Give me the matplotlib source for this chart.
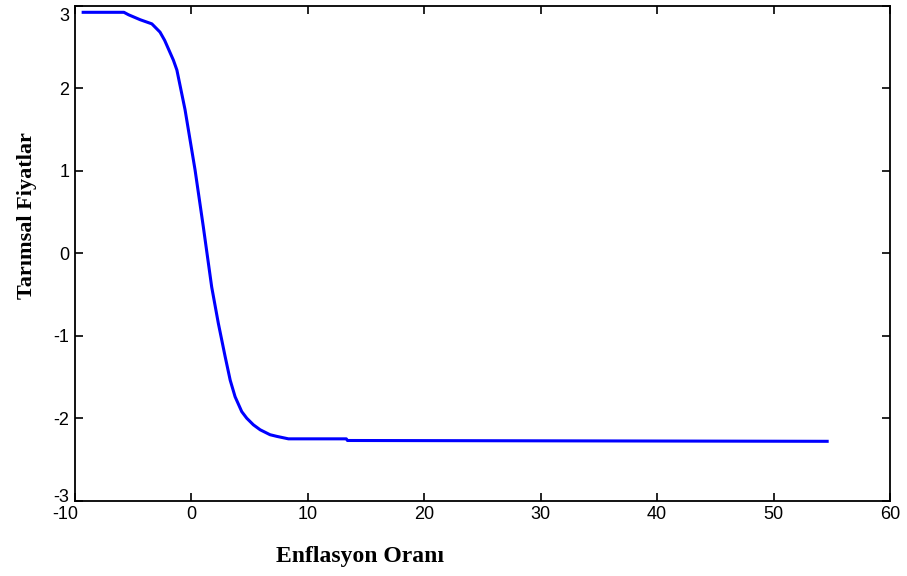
import numpy as np
import matplotlib.pyplot as plt
from matplotlib.transforms import ScaledTranslation

plt.rcParams["axes.unicode_minus"] = False

# values
enflasyon = [-9.3, -5.8, -5.4, -4.4, -3.4, -2.7, -2.3, -1.55, -1.25, -0.55, 0.31,
             1.02, 1.74, 2.31, 2.89, 3.33, 3.75, 4.32, 4.75, 5.32, 5.9, 6.75,
             7.33, 8.33, 13.3, 13.4, 54.6]
fiyat = [2.92, 2.92, 2.89, 2.83, 2.78, 2.68, 2.58, 2.34, 2.22, 1.74, 1.01,
         0.32, -0.41, -0.85, -1.25, -1.54, -1.74, -1.92, -2.0, -2.08, -2.14, -2.2,
         -2.22, -2.25, -2.25, -2.27, -2.28]

xticks = [-10, 0, 10, 20, 30, 40, 50, 60]
yticks = [-3, -2, -1, 0, 1, 2, 3]

fig = plt.figure(figsize=(9.07, 5.76), dpi=100)
ax = fig.add_axes([0.0827, 0.1307, 0.8986, 0.8594])

ax.plot(enflasyon, fiyat, color="#0000ff", linewidth=2.2)

ax.set_xlim(-10, 60)
ax.set_ylim(-3, 3)
ax.set_xticks(xticks)
ax.set_yticks(yticks)
ax.tick_params(direction="in", top=True, right=True, length=6, width=1.2,
               labelsize=13, pad=4)
for lab in ax.get_xticklabels() + ax.get_yticklabels():
    lab.set_family("Liberation Sans")
for s in ax.spines.values():
    s.set_linewidth(1.3)

# nudge the corner labels like the original (MATLAB style)
def nudge(tick, dx, dy):
    off = ScaledTranslation(dx / 72, dy / 72, fig.dpi_scale_trans)
    tick.label1.set_transform(tick.label1.get_transform() + off)

yt = ax.yaxis.get_major_ticks()
nudge(yt[0], 0, 4)
nudge(yt[-1], 0, -6)
xt = ax.xaxis.get_major_ticks()
nudge(xt[0], -7, 0)

fig.text(0.397, 0.033, "Enflasyon Oranı", fontsize=17, fontweight="bold",
         family="Liberation Serif", ha="center", va="center")
fig.text(0.030, 0.626, "Tarımsal Fiyatlar", fontsize=16, fontweight="bold",
         family="Liberation Serif", rotation=90, ha="center", va="center")

fig.savefig("out.png", dpi=100)
